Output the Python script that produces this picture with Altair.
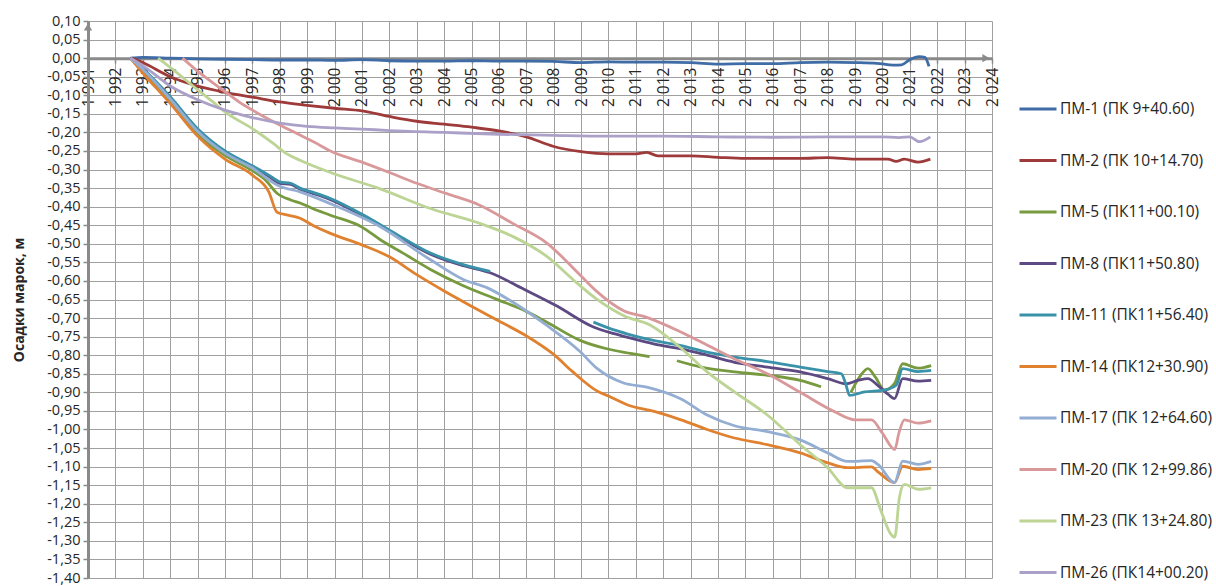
import altair as alt
import pandas as pd

# Marker names (legend order) and their line colours
SERIES = [
    "ПМ-1 (ПК 9+40.60)",
    "ПМ-2 (ПК 10+14.70)",
    "ПМ-5 (ПК11+00.10)",
    "ПМ-8 (ПК11+50.80)",
    "ПМ-11 (ПК11+56.40)",
    "ПМ-14 (ПК12+30.90)",
    "ПМ-17 (ПК 12+64.60)",
    "ПМ-20 (ПК 12+99.86)",
    "ПМ-23 (ПК 13+24.80)",
    "ПМ-26 (ПК14+00.20)",
]
COLORS = [
    "#3F6CA6", "#9E3B3A", "#779A3F", "#5D4A82", "#3A92AA",
    "#E0812F", "#94AED3", "#D9999B", "#BCD494", "#ABA0C8",
]

# Settlement of survey marks, m (year as decimal)
PM1_YEARS = [1992.55, 1993, 1994, 1995, 1996, 1997, 1998, 1999, 2000, 2001, 2002, 2003,
             2004, 2005, 2006, 2007, 2008, 2009, 2010, 2011, 2012, 2013, 2014, 2015,
             2016, 2017, 2018, 2019, 2019.8, 2020.4, 2020.7, 2021.0, 2021.35, 2021.55, 2021.7]
PM1_VALUES = [0.0, 0.002, 0.0, -0.002, -0.003, -0.004, -0.005, -0.005, -0.006, -0.004, -0.007, -0.008,
              -0.008, -0.007, -0.008, -0.008, -0.009, -0.012, -0.010, -0.011, -0.011, -0.012, -0.016, -0.015,
              -0.015, -0.012, -0.011, -0.012, -0.014, -0.019, -0.018, -0.004, 0.004, 0.002, -0.022]

PM2_YEARS = [1992.6, 1993, 1994, 1995, 1996, 1997, 1998, 1999, 2000, 2001, 2002, 2003,
             2004, 2005, 2006, 2007, 2008, 2009, 2010, 2011, 2011.4, 2011.8, 2013, 2014,
             2015, 2016, 2017, 2018, 2019, 2020.2, 2020.5, 2020.8, 2021.3, 2021.75]
PM2_VALUES = [0.0, -0.012, -0.05, -0.075, -0.092, -0.105, -0.118, -0.127, -0.135, -0.142, -0.157, -0.17,
              -0.178, -0.186, -0.196, -0.212, -0.238, -0.252, -0.258, -0.258, -0.254, -0.263, -0.263, -0.267,
              -0.27, -0.27, -0.27, -0.268, -0.272, -0.272, -0.278, -0.272, -0.28, -0.272]

PM5_YEARS_A = [1992.55, 1993, 1994, 1995, 1996, 1997, 1997.5, 1997.9, 1998.4, 1998.74, 1999.2, 1999.85,
               2001, 2001.67, 2002.5, 2003.5, 2004.7, 2005.9, 2007, 2007.75, 2008.96, 2009.9, 2010.8, 2011.5]
PM5_VALUES_A = [0.0, -0.035, -0.115, -0.205, -0.262, -0.303, -0.33, -0.364, -0.382, -0.39, -0.405, -0.423,
                -0.455, -0.489, -0.525, -0.569, -0.613, -0.649, -0.682, -0.711, -0.76, -0.782, -0.795, -0.804]
PM5_YEARS_B = [2012.5, 2013.38, 2014.6, 2015.8, 2017, 2017.76]
PM5_VALUES_B = [-0.815, -0.832, -0.845, -0.854, -0.868, -0.885]
PM5_YEARS_C = [2018.85, 2019.2, 2019.47, 2019.75, 2020.07, 2020.45, 2020.74, 2021.3, 2021.78]
PM5_VALUES_C = [-0.9, -0.855, -0.836, -0.86, -0.894, -0.875, -0.823, -0.835, -0.828]

PM8_YEARS = [1992.55, 1993, 1994, 1995, 1996, 1997, 1997.6, 1998, 1998.4, 1998.74, 1999.2, 1999.85,
             2001.07, 2002.3, 2003.5, 2004.7, 2005.68, 2006.9, 2008.1, 2009.45, 2010.2, 2010.7, 2011.68,
             2012.65, 2013.6, 2014.6, 2015.8, 2017, 2018, 2018.67, 2019.1, 2019.47, 2019.83, 2020.2,
             2020.44, 2020.74, 2021.3, 2021.78]
PM8_VALUES = [0.0, -0.03, -0.106, -0.192, -0.252, -0.292, -0.318, -0.337, -0.34, -0.353, -0.364, -0.381,
              -0.426, -0.479, -0.528, -0.559, -0.578, -0.622, -0.667, -0.724, -0.742, -0.752, -0.77,
              -0.783, -0.80, -0.819, -0.832, -0.845, -0.863, -0.877, -0.868, -0.863, -0.881, -0.905,
              -0.917, -0.863, -0.87, -0.868]

PM11_YEARS_A = [1992.55, 1993, 1994, 1995, 1996, 1997, 1997.6, 1998, 1998.4, 1998.74, 1999.2, 1999.85,
                2001.07, 2002.3, 2003.5, 2004.7, 2005.68]
PM11_VALUES_A = [0.0, -0.028, -0.104, -0.19, -0.25, -0.29, -0.315, -0.333, -0.337, -0.35, -0.361, -0.378,
                 -0.423, -0.476, -0.525, -0.556, -0.574]
PM11_YEARS_B = [2009.45, 2010.2, 2010.7, 2011.68, 2012.65, 2013.6, 2014.6, 2015.8, 2017, 2018, 2018.5,
                2018.65, 2018.8, 2019.35, 2020.07, 2020.5, 2020.74, 2021.3, 2021.78]
PM11_VALUES_B = [-0.711, -0.732, -0.743, -0.761, -0.774, -0.792, -0.805, -0.817, -0.832, -0.844, -0.85,
                 -0.875, -0.908, -0.899, -0.894, -0.881, -0.836, -0.844, -0.841]

PM14_YEARS = [1992.55, 1993, 1994, 1995, 1996, 1997, 1997.6, 1997.9, 1998.3, 1998.74, 1999.2, 1999.85,
              2001, 2002, 2003, 2004, 2005, 2006, 2007, 2008, 2008.7, 2009.6, 2010, 2010.7, 2011.7,
              2012.65, 2013.6, 2014.6, 2015.8, 2017, 2018, 2018.73, 2019.6, 2019.85, 2020.44, 2020.74,
              2021.3, 2021.78]
PM14_VALUES = [0.0, -0.04, -0.122, -0.21, -0.272, -0.315, -0.36, -0.415, -0.423, -0.431, -0.45, -0.472,
               -0.503, -0.535, -0.583, -0.627, -0.668, -0.708, -0.748, -0.798, -0.845, -0.897, -0.91, -0.934,
               -0.952, -0.974, -1.0, -1.023, -1.041, -1.063, -1.09, -1.103, -1.101, -1.115, -1.143, -1.099,
               -1.108, -1.105]

PM17_YEARS = [1992.55, 1993, 1994, 1995, 1996, 1997, 1998, 1998.74, 1999.85, 2001.67, 2003.5, 2004.7,
              2005.56, 2006.53, 2007.75, 2008.96, 2009.57, 2010.55, 2011.4, 2012.65, 2013.6, 2014.6,
              2015.8, 2017, 2018, 2018.73, 2019.6, 2019.85, 2020.44, 2020.74, 2021.3, 2021.78]
PM17_VALUES = [0.0, -0.03, -0.11, -0.197, -0.256, -0.296, -0.345, -0.36, -0.392, -0.454, -0.543, -0.596,
               -0.618, -0.658, -0.72, -0.79, -0.835, -0.875, -0.886, -0.918, -0.961, -0.99,
               -1.006, -1.028, -1.063, -1.086, -1.084, -1.095, -1.143, -1.085, -1.094, -1.086]

PM20_YEARS = [1994.45, 1995, 1996, 1996.55, 1997, 1998, 1998.74, 1999.3, 1999.85, 2001, 2002, 2003,
              2004.1, 2005.3, 2006.5, 2007.75, 2009, 2009.6, 2010.55, 2011.4, 2012.6, 2013.4, 2014.6,
              2015.8, 2017, 2018.25, 2019, 2019.6, 2020, 2020.45, 2020.6, 2020.8, 2021.3, 2021.78]
PM20_VALUES = [0.0, -0.035, -0.09, -0.12, -0.14, -0.18, -0.207, -0.228, -0.25, -0.28, -0.308, -0.337,
               -0.365, -0.396, -0.445, -0.498, -0.587, -0.63, -0.68, -0.698, -0.736, -0.765, -0.81,
               -0.85, -0.90, -0.952, -0.974, -0.974, -1.01, -1.054, -1.01, -0.974, -0.983, -0.977]

PM23_YEARS = [1993.56, 1994, 1995, 1995.56, 1996, 1997, 1997.75, 1998.2, 1998.74, 1999.85, 2001.67, 2003.5,
              2005.3, 2006.5, 2007.75, 2008.7, 2009.57, 2010.6, 2011.5, 2012.6, 2013.6, 2014.6, 2015.8,
              2017, 2018, 2018.73, 2019.6, 2019.95, 2020.3, 2020.45, 2020.62, 2020.8, 2021.3, 2021.78]
PM23_VALUES = [0.0, -0.025, -0.085, -0.118, -0.145, -0.19, -0.229, -0.255, -0.275, -0.308, -0.352, -0.405,
               -0.445, -0.48, -0.534, -0.596, -0.649, -0.695, -0.718, -0.778, -0.845, -0.899, -0.961,
               -1.041, -1.103, -1.157, -1.157, -1.22, -1.281, -1.29, -1.183, -1.148, -1.161, -1.157]

PM26_YEARS = [1992.55, 1993, 1994, 1995, 1996, 1997, 1998, 1999, 2000, 2001, 2002, 2004, 2006, 2008,
              2010, 2012, 2014, 2016, 2018, 2020, 2020.6, 2021.0, 2021.35, 2021.75]
PM26_VALUES = [0.0, -0.02, -0.075, -0.112, -0.14, -0.16, -0.175, -0.184, -0.188, -0.191, -0.195, -0.2,
               -0.205, -0.208, -0.21, -0.21, -0.212, -0.213, -0.212, -0.212, -0.214, -0.212, -0.225, -0.212]

# (series index, segment id, years, values); gaps in observations split a series into segments
SEGMENTS = [
    (0, "a", PM1_YEARS, PM1_VALUES),
    (1, "a", PM2_YEARS, PM2_VALUES),
    (2, "a", PM5_YEARS_A, PM5_VALUES_A),
    (2, "b", PM5_YEARS_B, PM5_VALUES_B),
    (2, "c", PM5_YEARS_C, PM5_VALUES_C),
    (3, "a", PM8_YEARS, PM8_VALUES),
    (4, "a", PM11_YEARS_A, PM11_VALUES_A),
    (4, "b", PM11_YEARS_B, PM11_VALUES_B),
    (5, "a", PM14_YEARS, PM14_VALUES),
    (6, "a", PM17_YEARS, PM17_VALUES),
    (7, "a", PM20_YEARS, PM20_VALUES),
    (8, "a", PM23_YEARS, PM23_VALUES),
    (9, "a", PM26_YEARS, PM26_VALUES),
]

rows = []
for idx, seg, years, values in SEGMENTS:
    assert len(years) == len(values), SERIES[idx]
    for order, (yr, val) in enumerate(zip(years, values)):
        rows.append({"series": SERIES[idx], "segment": f"{idx}{seg}",
                     "year": yr, "value": val, "order": order})
df = pd.DataFrame(rows)

YEAR_TICKS = list(range(1991, 2025))
Y_TICKS = [round(-1.40 + 0.05 * i, 2) for i in range(31)]

W, H = 904, 557
Y_MIN, Y_MAX = -1.40, 0.10
ZERO_FROM_TOP = (Y_MAX - 0.0) / (Y_MAX - Y_MIN) * H

FONT = "Open Sans"
GRID = "#A0A0A0"
AXIS_GRAY = "#8A8A8A"
TEXT = "#262626"
FS = 15.5
FS_Y = 14.5

x_scale = alt.Scale(domain=[1991, 2024], nice=False, zero=False)
y_scale = alt.Scale(domain=[Y_MIN, Y_MAX], nice=False, zero=False)

# Year axis drawn along the zero line, labels turned to read upwards
x_axis = alt.Axis(
    values=YEAR_TICKS, title=None, orient="bottom",
    offset=-(H - ZERO_FROM_TOP),
    labelExpr="replace(format(datum.value, ',d'), ',', ' ')",
    labelAngle=270, labelFontSize=FS, labelColor=TEXT, labelPadding=4,
    grid=True, gridColor=GRID, gridWidth=1,
    domainColor=AXIS_GRAY, domainWidth=3,
    tickColor=AXIS_GRAY, tickSize=5, tickWidth=1.5,
    labelOverlap=False,
)
y_axis = alt.Axis(
    values=Y_TICKS, title="Осадки марок, м",
    labelExpr="(datum.value < -0.0001 ? '-' : '') + replace(format(abs(datum.value), '.2f'), '.', ',')",
    labelFontSize=FS_Y, labelColor=TEXT, labelPadding=3,
    titleFontSize=14, titleFontWeight="bold", titleColor=TEXT, titlePadding=20,
    grid=True, gridColor=GRID, gridWidth=1,
    domainColor=AXIS_GRAY, domainWidth=3,
    tickColor=AXIS_GRAY, tickSize=5, tickWidth=1.5,
    labelOverlap=False,
)

lines = alt.Chart(df).mark_line(strokeWidth=2.8, interpolate="monotone").encode(
    x=alt.X("year:Q", scale=x_scale, axis=x_axis),
    y=alt.Y("value:Q", scale=y_scale, axis=y_axis),
    color=alt.Color(
        "series:N",
        scale=alt.Scale(domain=SERIES, range=COLORS),
        legend=alt.Legend(
            title=None, orient="none", legendX=930, legendY=68,
            symbolType="stroke", symbolSize=1369, symbolStrokeWidth=3,
            labelFontSize=FS, labelColor=TEXT, labelOffset=2, labelLimit=300,
            rowPadding=22.5, padding=0,
        ),
    ),
    detail="segment:N",
    order="order:Q",
)

# Arrow heads at the ends of both axes
ARROW_YEARS = [1991, 2024]
ARROW_VALUES = [Y_MAX, 0.0]
arrow_df = pd.DataFrame({"year": ARROW_YEARS, "value": ARROW_VALUES})
arrow_up = alt.Chart(arrow_df.iloc[[0]]).mark_point(
    shape="triangle-up", filled=True, size=70, color=AXIS_GRAY, opacity=1, yOffset=6
).encode(x=alt.X("year:Q", scale=x_scale, axis=x_axis),
         y=alt.Y("value:Q", scale=y_scale, axis=y_axis))
arrow_right = alt.Chart(arrow_df.iloc[[1]]).mark_point(
    shape="triangle-right", filled=True, size=70, color=AXIS_GRAY, opacity=1, xOffset=-6
).encode(x=alt.X("year:Q", scale=x_scale, axis=x_axis),
         y=alt.Y("value:Q", scale=y_scale, axis=y_axis))

chart = alt.layer(lines, arrow_up, arrow_right).properties(
    width=W, height=H,
    padding={"left": 88, "top": 21, "right": 1216 - 88 - W, "bottom": 586 - 21 - H},
    autosize=alt.AutoSizeParams(type="none"),
    background="white",
).configure(font=FONT).configure_view(stroke=None)

chart.save("out.html", embed_options={"renderer": "svg", "actions": False})
